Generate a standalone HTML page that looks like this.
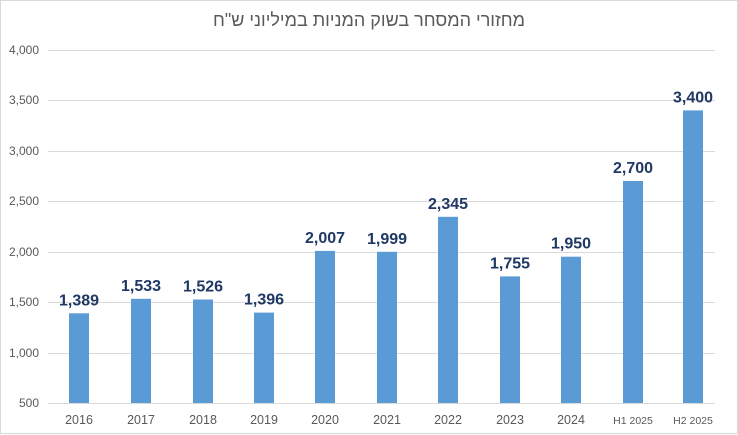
<!DOCTYPE html>
<html><head><meta charset="utf-8"><style>
body{margin:0;background:#fff}
svg{display:block}
</style></head><body>
<svg width="738" height="435" xmlns="http://www.w3.org/2000/svg" font-family="Liberation Sans, sans-serif">
<rect x="0.5" y="0.5" width="737" height="433" fill="#fff" stroke="#d9d9d9"/>
<text x="369" y="26" text-anchor="middle" font-size="18" fill="#595959" font-family="Liberation Sans, DejaVu Sans, sans-serif">מחזורי המסחר בשוק המניות במיליוני ש"ח</text>
<g stroke="#d9d9d9" stroke-width="1">
<line x1="48" x2="715" y1="50.5" y2="50.5"/>
<line x1="48" x2="715" y1="100.5" y2="100.5"/>
<line x1="48" x2="715" y1="151.5" y2="151.5"/>
<line x1="48" x2="715" y1="201.5" y2="201.5"/>
<line x1="48" x2="715" y1="252.5" y2="252.5"/>
<line x1="48" x2="715" y1="302.5" y2="302.5"/>
<line x1="48" x2="715" y1="353.5" y2="353.5"/>
<line x1="48" x2="715" y1="403.5" y2="403.5"/>
</g>
<g font-size="12" fill="#595959" text-anchor="end">
<text x="39" y="54">4,000</text><text x="39" y="104">3,500</text><text x="39" y="155">3,000</text>
<text x="39" y="205">2,500</text><text x="39" y="256">2,000</text><text x="39" y="306">1,500</text>
<text x="39" y="357">1,000</text><text x="39" y="407">500</text>
</g>
<g fill="#5b9bd5">
<rect x="69" y="313.3" width="20" height="89.7"/>
<rect x="131" y="298.8" width="20" height="104.2"/>
<rect x="193" y="299.5" width="20" height="103.5"/>
<rect x="254" y="312.6" width="20" height="90.4"/>
<rect x="315" y="250.9" width="20" height="152.1"/>
<rect x="377" y="251.8" width="20" height="151.2"/>
<rect x="438" y="216.8" width="20" height="186.2"/>
<rect x="500" y="276.4" width="20" height="126.6"/>
<rect x="561" y="256.7" width="20" height="146.3"/>
<rect x="623" y="181.0" width="20" height="222.0"/>
<rect x="683" y="110.4" width="20" height="292.6"/>
</g>
<g font-size="16" font-weight="bold" fill="#1f3864" text-anchor="middle">
<text x="79" y="305.3">1,389</text>
<text x="141" y="290.8">1,533</text>
<text x="203" y="291.5">1,526</text>
<text x="264" y="304.6">1,396</text>
<text x="325" y="242.9">2,007</text>
<text x="387" y="243.8">1,999</text>
<text x="448" y="208.8">2,345</text>
<text x="510" y="268.4">1,755</text>
<text x="571" y="248.7">1,950</text>
<text x="633" y="173.0">2,700</text>
<text x="693" y="102.4">3,400</text>
</g>
<g font-size="12.5" fill="#595959" text-anchor="middle">
<text x="79" y="424">2016</text>
<text x="141" y="424">2017</text>
<text x="203" y="424">2018</text>
<text x="264" y="424">2019</text>
<text x="325" y="424">2020</text>
<text x="387" y="424">2021</text>
<text x="448" y="424">2022</text>
<text x="510" y="424">2023</text>
<text x="571" y="424">2024</text>
<text x="633" y="424" font-size="10.5">H1 2025</text>
<text x="693" y="424" font-size="10.5">H2 2025</text>
</g>
</svg>
</body></html>
